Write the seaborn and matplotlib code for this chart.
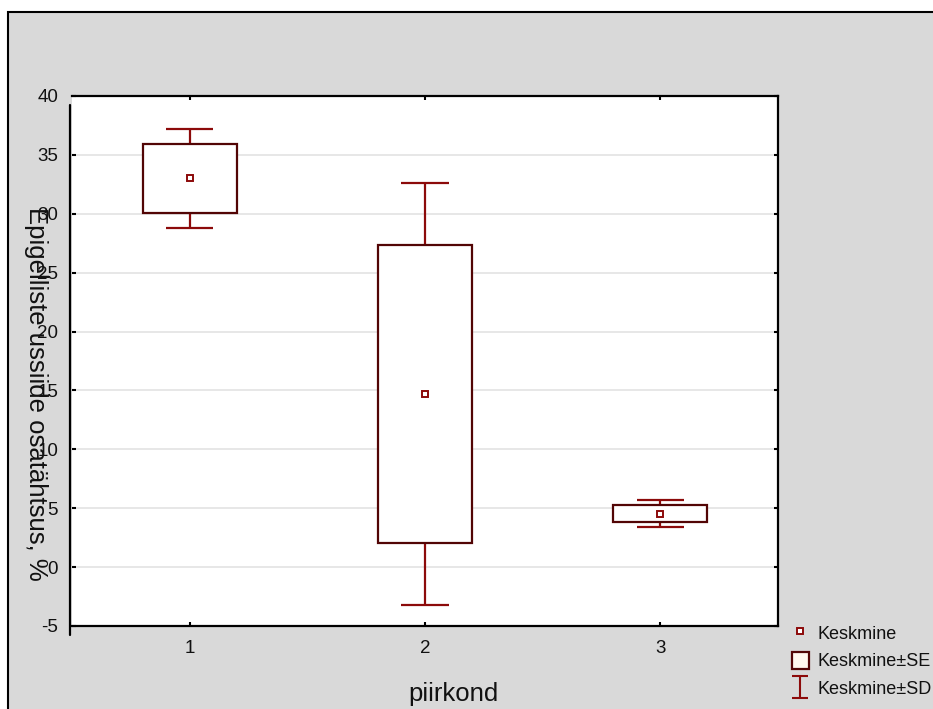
import numpy as np
import pandas as pd
import matplotlib
matplotlib.use("Agg")
import matplotlib.pyplot as plt
import matplotlib.transforms as mtransforms
from matplotlib.lines import Line2D
from matplotlib.patches import Patch, Rectangle
from matplotlib.path import Path
import seaborn as sns

# Mean, standard error and standard deviation per region
regions = ["1", "2", "3"]
mean = [33.0, 14.7, 4.53]
se = [2.9, 12.62, 0.74]
sd = [4.2, 17.95, 1.16]
y_ticks = [-5, 0, 5, 10, 15, 20, 25, 30, 35, 40]

x_label = "piirkond"
y_label = "Epigelliste ussiide osatähtsus, %"
legend_labels = ["Keskmine", "Keskmine±SE", "Keskmine±SD"]

WHISKER = "#8c0a0a"
BOX = "#520505"
PANEL = "#d9d9d9"

sns.set_theme(style="white")
plt.rcParams["font.family"] = ["Liberation Sans", "DejaVu Sans"]

df = pd.DataFrame({"piirkond": regions, "mean": mean, "se": se, "sd": sd})

W, H = 933, 709
fig = plt.figure(figsize=(W / 100, H / 100), dpi=100, facecolor="white")

# grey panel with a black frame along its top and left edges
fig.add_artist(Rectangle((8 / W, -0.2), 1.3, 0.2 + 1 - 12 / H,
                         transform=fig.transFigure, facecolor=PANEL,
                         edgecolor="black", linewidth=1.5, zorder=-10))

ax = fig.add_axes([72 / W, 1 - 626 / H, 706 / W, 530 / H])
ax.set_facecolor("white")

pos = np.arange(len(regions))
lo_sd = df["mean"] - df["sd"]
hi_sd = df["mean"] + df["sd"]

# SD whiskers
ax.vlines(pos, lo_sd, hi_sd, color=WHISKER, linewidth=1.6, zorder=2)
ax.hlines(hi_sd, pos - 0.1, pos + 0.1, color=WHISKER, linewidth=1.6, zorder=2)
ax.hlines(lo_sd, pos - 0.1, pos + 0.1, color=WHISKER, linewidth=1.6, zorder=2)

# SE boxes
ax.bar(pos, 2 * df["se"], bottom=df["mean"] - df["se"], width=0.4,
       facecolor="white", edgecolor=BOX, linewidth=1.6, zorder=3)

# means
sns.pointplot(data=df, x="piirkond", y="mean", order=regions,
              linestyle="none", marker="s", color=WHISKER, errorbar=None,
              markersize=5, markerfacecolor="white", markeredgecolor=WHISKER,
              markeredgewidth=1.4, zorder=4, ax=ax)

ax.set_xlim(-0.5, 2.5)
ax.set_ylim(-5, 40)
ax.set_yticks(y_ticks)
ax.set_yticklabels([str(t) for t in y_ticks])
ax.set_xticks(pos)
ax.set_xticklabels(regions)

ax.grid(axis="y", color="#e3e3e3", linewidth=1.2)
ax.grid(axis="x", visible=False)
ax.set_axisbelow(True)

for side in ["top", "right", "bottom"]:
    ax.spines[side].set_visible(True)
    ax.spines[side].set_color("black")
    ax.spines[side].set_linewidth(1.6)
ax.spines["left"].set_visible(False)

# left axis line, drawn slightly offset from the plot area
shifted = mtransforms.offset_copy(ax.transAxes, fig=fig, x=-2, y=-9, units="dots")
ax.plot([0, 0], [0, 1], transform=shifted, color="black", linewidth=1.6,
        clip_on=False, zorder=5)

ax.tick_params(axis="both", which="both", direction="in", length=3, width=1.5,
               color="black", top=True, right=True, left=True, bottom=True,
               labelsize=13.5, labelcolor="#111111", pad=10)

ax.set_xlabel(x_label, fontsize=18.5, color="#111111")
ax.xaxis.set_label_coords(0.54, -0.128)
ax.xaxis.label.set_verticalalignment("center")

ax.set_ylabel(y_label, fontsize=18.5, color="#111111", rotation=-90,
              va="center", ha="center")
ax.yaxis.set_label_coords(-0.051, 0.438)

# legend
i_path = Path([(-0.75, 1), (0.75, 1), (0, 1), (0, -1), (-0.75, -1), (0.75, -1)],
              [Path.MOVETO, Path.LINETO, Path.MOVETO, Path.LINETO,
               Path.MOVETO, Path.LINETO])
handles = [
    Line2D([], [], linestyle="none", marker="s", markersize=5,
           markerfacecolor="white", markeredgecolor=WHISKER, markeredgewidth=1.4),
    Patch(facecolor="#fff7ee", edgecolor=BOX, linewidth=1.6),
    Line2D([], [], linestyle="none", marker=i_path, markersize=15.5,
           markerfacecolor="none", markeredgecolor=WHISKER, markeredgewidth=1.5),
]
fig.legend(handles, legend_labels, loc="upper left",
           bbox_to_anchor=(792 / W, 1 - 624 / H), frameon=False,
           fontsize=13, handlelength=0.94, handleheight=1.05,
           handletextpad=0.45, labelspacing=0.52, borderpad=0,
           borderaxespad=0, labelcolor="#111111")

fig.savefig("out.png", dpi=100, facecolor=fig.get_facecolor())
